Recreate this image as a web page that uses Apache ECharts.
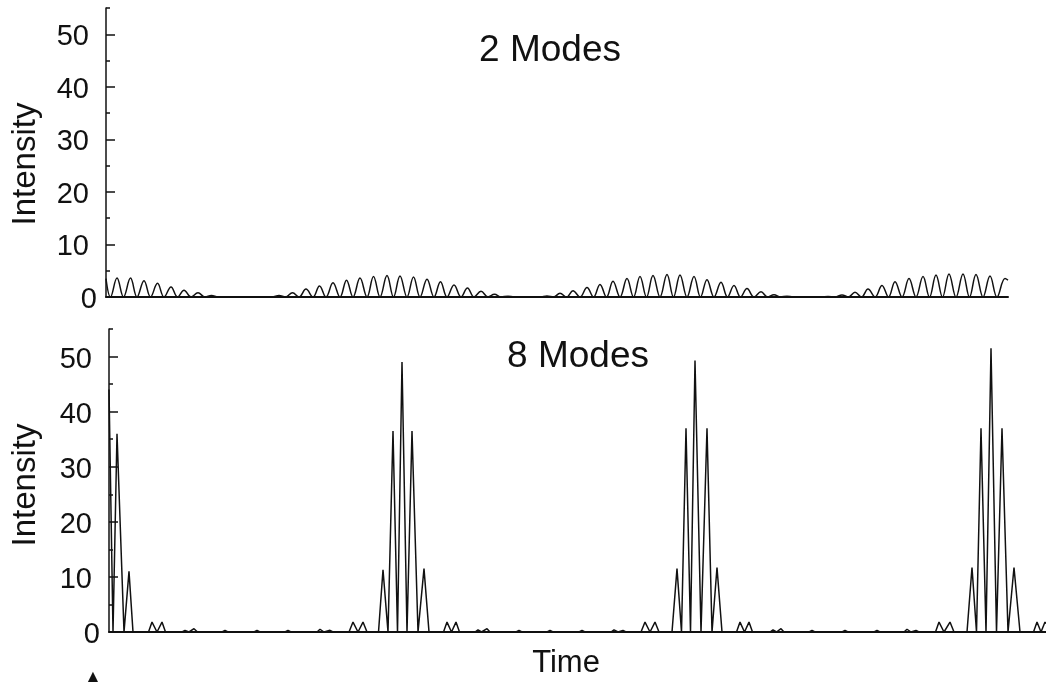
<!DOCTYPE html>
<html><head><meta charset="utf-8">
<script src="https://cdn.jsdelivr.net/npm/echarts@6/dist/echarts.min.js"></script>
<style>html,body{margin:0;padding:0;background:#fff}#c{width:1046px;height:682px}</style>
</head><body><div id="c"></div>
<script>
// ---- data (time in arbitrary units, intensity in a.u.) ----
const yTickLabels = [0, 10, 20, 30, 40, 50];
const yMinorTicks = [5, 15, 25, 35, 45, 55];
const panelTitles = ['2 Modes', '8 Modes'];
const yName = 'Intensity';
const xName = 'Time';
const topTimeMax = 902;
const bottomTimeMax = 937;

const topTime = [0,4.5,11,17.5,24.5,31,38,44.5,51.5,58,65,71.5,78,85,92,99,105.5,112,119,125,
  166,173,179.5,186.5,193,200,207,213.5,220,227,234,240.5,247,254,261,267.5,274,281,287.5,294,301,307.5,314,321,328,334.5,341,348,355,361.5,368,375,382,388.5,395,402,408,
  434,441,447.5,454,460.5,467,474,481,487.5,494,500.5,507,514,521,527.5,534,540.5,547,554,561,567.5,574,581,588,594.5,601,608,615,621.5,628,634.5,641,648,655,661.5,668,674.5,681,687,
  715,722,729,736,742.5,749,755.5,762,769,776,782.5,789,796,803,810,817,823.5,830,836.5,843,850,857,863.5,870,877,884,891,899,902];
const topIntensity = [3.5,0,3.6,0,3.6,0,3.1,0,2.6,0,1.9,0,1.3,0,0.8,0,0.3,0,0.05,0,
  0,0.3,0,0.8,0,1.5,0,2.1,0,2.7,0,3.2,0,3.6,0,3.9,0,4.1,0,4.0,0,3.8,0,3.4,0,2.9,0,2.3,0,1.7,0,1.1,0,0.5,0,0.15,0,
  0,0.2,0,0.7,0,1.2,0,1.8,0,2.4,0,3.0,0,3.5,0,3.9,0,4.1,0,4.3,0,4.2,0,3.9,0,3.3,0,2.8,0,2.2,0,1.6,0,1.0,0,0.45,0,0.15,0,
  0,0.1,0,0.4,0,0.9,0,1.5,0,2.2,0,2.9,0,3.5,0,3.9,0,4.2,0,4.4,0,4.4,0,4.3,0,4.0,0,3.5,3.2];

const bottomTime = [0,4,8,15,20,24,39.5,43,48,53,56.5,73,76,80,85,88.5,113,116,119,145,148,151,176,179,182,208,211,215,221,224,240,244,249,254,258,
  269.5,274,279,284,288.5,293,298,303,309,315,320,334.5,338,342.5,347,350.5,366,369,372.5,378,381,407,410,413,438,441,444,470,473,476,502,505,509,514,517,532,536,541,546,550,
  563,568,572.5,577,581.5,586,592,598,603,608,613,627.5,631,635.5,640,643.5,661,664,667.5,672,675,700,703,706,733,736,739,765,768,771,795,798,802,807,810,826.5,830,835,841,845,
  858,863,867.5,872,877,882,887.5,893,899,905,911,924.5,928,932,936,937];
const bottomIntensity = [44,0,36,0,11,0,0,1.8,0,1.8,0,0,0.3,0,0.6,0,0,0.3,0,0,0.3,0,0,0.3,0,0,0.5,0,0.3,0,0,1.8,0,1.8,0,
  0,11.3,0,36.5,0,49,0,36.5,0,11.5,0,0,1.8,0,1.8,0,0,0.4,0,0.6,0,0,0.3,0,0,0.3,0,0,0.3,0,0,0.4,0,0.3,0,0,1.8,0,1.8,0,
  0,11.5,0,37,0,49.3,0,37,0,11.7,0,0,1.8,0,1.8,0,0,0.4,0,0.6,0,0,0.3,0,0,0.3,0,0,0.3,0,0,0.5,0,0.3,0,0,1.8,0,1.8,0,
  0,11.7,0,37,0,51.5,0,37,0,11.7,0,0,1.8,0,1.8,1.5];

// ---- chart ----
const FONT = '"Liberation Sans", Arial, Helvetica, sans-serif';
const INK = '#111';
const pairs = (t, v) => t.map((x, i) => [x, v[i]]);

const grids = [
  { left: 106, right: 38, top: 8, height: 289 },
  { left: 109, right: 0, top: 329, height: 303 }
];

function yAxesFor(gi) {
  return [{
    type: 'value', gridIndex: gi, min: 0, max: 55, interval: 10, position: 'left',
    axisLine: { show: true, lineStyle: { color: INK, width: 1.5 } },
    axisTick: { show: true, inside: true, length: 9, customValues: yTickLabels, lineStyle: { color: INK, width: 1.5 } },
    axisLabel: {
      show: true, customValues: yTickLabels, margin: 9,
      formatter: v => (v % 10 !== 0 ? '' : (v === 0 ? '{z|0}' : '{a|' + v + '}')),
      rich: {
        a: { fontSize: 29, fontFamily: FONT, color: INK, padding: [6, 8, 0, 0] },
        z: { fontSize: 29, fontFamily: FONT, color: INK, padding: [6, 0, 0, 0] }
      }
    },
    splitLine: { show: false }
  }, {
    type: 'value', gridIndex: gi, min: 0, max: 55, interval: 5, position: 'left',
    axisLine: { show: false },
    axisTick: { show: true, inside: true, length: 4, lineStyle: { color: INK, width: 1.5 } },
    axisLabel: { show: false }, splitLine: { show: false }
  }];
}

function xAxisFor(gi, max) {
  return {
    type: 'value', gridIndex: gi, min: 0, max: max,
    axisLine: { show: true, onZero: false, lineStyle: { color: INK, width: 2 } },
    axisTick: { show: false }, axisLabel: { show: false }, splitLine: { show: false }
  };
}

const option = {
  animation: false,
  backgroundColor: '#fff',
  grid: grids,
  xAxis: [xAxisFor(0, topTimeMax), xAxisFor(1, bottomTimeMax)],
  yAxis: [...yAxesFor(0), ...yAxesFor(1)],
  series: [
    { type: 'line', xAxisIndex: 0, yAxisIndex: 0, data: pairs(topTime, topIntensity),
      symbol: 'none', smooth: 0.4, lineStyle: { color: INK, width: 1.5 } },
    { type: 'line', xAxisIndex: 1, yAxisIndex: 2, data: pairs(bottomTime, bottomIntensity),
      symbol: 'none', lineStyle: { color: INK, width: 1.5 } }
  ],
  graphic: [
    { type: 'text', x: 550, y: 51, style: { text: panelTitles[0], fontSize: 37, fontFamily: FONT, fill: INK, align: 'center', verticalAlign: 'middle' } },
    { type: 'text', x: 578, y: 357, style: { text: panelTitles[1], fontSize: 37, fontFamily: FONT, fill: INK, align: 'center', verticalAlign: 'middle' } },
    { type: 'text', x: 26, y: 164, rotation: Math.PI / 2, style: { text: yName, fontSize: 33, fontFamily: FONT, fill: INK, align: 'center', verticalAlign: 'middle' } },
    { type: 'text', x: 26, y: 485, rotation: Math.PI / 2, style: { text: yName, fontSize: 33, fontFamily: FONT, fill: INK, align: 'center', verticalAlign: 'middle' } },
    { type: 'text', x: 566, y: 663, style: { text: xName, fontSize: 31, fontFamily: FONT, fill: INK, align: 'center', verticalAlign: 'middle' } },
    { type: 'text', x: 93, y: 669, style: { text: '▲', fontSize: 22, fontFamily: '"DejaVu Sans", sans-serif', fill: INK, align: 'center', verticalAlign: 'top' } }
  ]
};

echarts.init(document.getElementById('c'), null, { renderer: 'canvas' }).setOption(option);
</script>
</body></html>
